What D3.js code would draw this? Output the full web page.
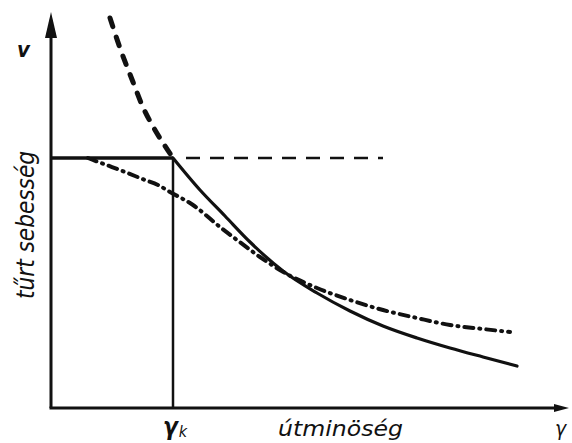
<!DOCTYPE html>
<html>
<head>
<meta charset="utf-8">
<script src="https://cdn.jsdelivr.net/npm/d3@7"></script>
<style>
  html, body { margin: 0; padding: 0; background: #fff; }
  svg { display: block; }
  .lbl { font-family: 'Liberation Sans Narrow', 'DejaVu Sans Condensed', 'Liberation Sans', sans-serif; font-style: italic; fill: #111; }
</style>
</head>
<body>
<svg id="chart" width="572" height="443"></svg>
<script>
// Road quality (γ) vs. tolerated speed (v)
const kneeGamma = 2.44;   // γk
const vMax = 10;          // speed limit level

// envelope curve below the knee (solid)
const envelopeGamma = [2.44, 2.98, 3.48, 3.98, 4.64, 5.32, 5.98, 6.64, 7.32, 7.98, 8.64, 9.32];
const envelopeSpeed = [10.0, 8.72, 7.68, 6.64, 5.48, 4.60, 3.88, 3.28, 2.80, 2.40, 2.04, 1.68];

// envelope continuation above the speed limit (dashed)
const upperGamma = [1.18, 1.38, 1.64, 1.82, 2.08, 2.28, 2.44];
const upperSpeed = [15.6, 14.4, 13.04, 12.12, 11.12, 10.48, 10.0];

// actual speed curve (dash-dot)
const actualGamma = [0.74, 0.84, 1.22, 1.48, 1.88, 2.14, 2.38, 2.84, 3.38, 3.72, 4.18, 4.68, 5.32, 5.98, 6.64, 7.32, 7.98, 8.64, 9.18];
const actualSpeed = [10.0, 9.92, 9.64, 9.44, 9.12, 8.92, 8.64, 8.12, 7.24, 6.72, 6.04, 5.40, 4.80, 4.32, 3.92, 3.60, 3.32, 3.16, 3.04];

// extent of the dashed speed-limit line
const limitGamma = [2.70, 6.64];

const svg = d3.select("#chart");
const x = d3.scaleLinear().domain([0, 10]).range([51, 551]);
const y = d3.scaleLinear().domain([0, 10]).range([408, 158]);
const ink = "#111";

const zip = (a, b) => a.map((g, i) => [g, b[i]]);
const line = d3.line().x(d => x(d[0])).y(d => y(d[1])).curve(d3.curveMonotoneX);

// axes
svg.append("line").attr("x1", x(0)).attr("y1", y(0)).attr("x2", x(0)).attr("y2", 34)
  .attr("stroke", ink).attr("stroke-width", 3);
svg.append("path").attr("d", `M${x(0)},12 L${x(0) - 6},38 L${x(0) + 6},38 Z`).attr("fill", ink);
svg.append("line").attr("x1", x(0) - 1.5).attr("y1", y(0)).attr("x2", 558).attr("y2", y(0))
  .attr("stroke", ink).attr("stroke-width", 3);
svg.append("path").attr("d", `M569,${y(0)} L554,${y(0) - 4} L554,${y(0) + 4} Z`).attr("fill", ink);

// speed limit: solid up to γk, dashed beyond
svg.append("line").attr("x1", x(0)).attr("y1", y(vMax)).attr("x2", x(kneeGamma)).attr("y2", y(vMax))
  .attr("stroke", ink).attr("stroke-width", 3.5);
svg.append("line").attr("x1", x(limitGamma[0])).attr("y1", y(vMax)).attr("x2", x(limitGamma[1])).attr("y2", y(vMax))
  .attr("stroke", ink).attr("stroke-width", 2.6).attr("stroke-dasharray", "14,10");

// γk vertical
svg.append("line").attr("x1", x(kneeGamma)).attr("y1", y(vMax)).attr("x2", x(kneeGamma)).attr("y2", y(0))
  .attr("stroke", ink).attr("stroke-width", 2.5);

// curves
svg.append("path").attr("d", line(zip(upperGamma, upperSpeed)))
  .attr("fill", "none").attr("stroke", ink).attr("stroke-width", 5)
  .attr("stroke-linecap", "round").attr("stroke-dasharray", "9,11");
svg.append("path").attr("d", line(zip(envelopeGamma, envelopeSpeed)))
  .attr("fill", "none").attr("stroke", ink).attr("stroke-width", 3.2).attr("stroke-linecap", "round");
svg.append("path").attr("d", line(zip(actualGamma, actualSpeed)))
  .attr("fill", "none").attr("stroke", ink).attr("stroke-width", 4)
  .attr("stroke-linecap", "round").attr("stroke-dasharray", "9,6,1,6");

// labels
svg.append("text").attr("class", "lbl").attr("x", 17).attr("y", 57)
  .attr("font-size", 22).attr("font-weight", "bold").text("v");
svg.append("text").attr("class", "lbl")
  .attr("transform", "translate(34,225) rotate(-90)").attr("text-anchor", "middle")
  .attr("font-size", 24).attr("textLength", 148).attr("lengthAdjust", "spacingAndGlyphs")
  .text("tűrt sebesség");
const gk = svg.append("text").attr("class", "lbl").attr("x", x(kneeGamma) - 10).attr("y", 435)
  .attr("font-size", 24).attr("font-weight", "bold");
gk.append("tspan").text("γ");
gk.append("tspan").attr("font-size", 16).attr("font-weight", "normal").attr("dx", 1).attr("dy", 2).text("k");
svg.append("text").attr("class", "lbl").attr("x", 278).attr("y", 436)
  .attr("font-size", 22).attr("textLength", 125).attr("lengthAdjust", "spacingAndGlyphs")
  .text("útminöség");
svg.append("text").attr("class", "lbl").attr("x", 555).attr("y", 436)
  .attr("font-size", 21).text("γ");
</script>
</body>
</html>
